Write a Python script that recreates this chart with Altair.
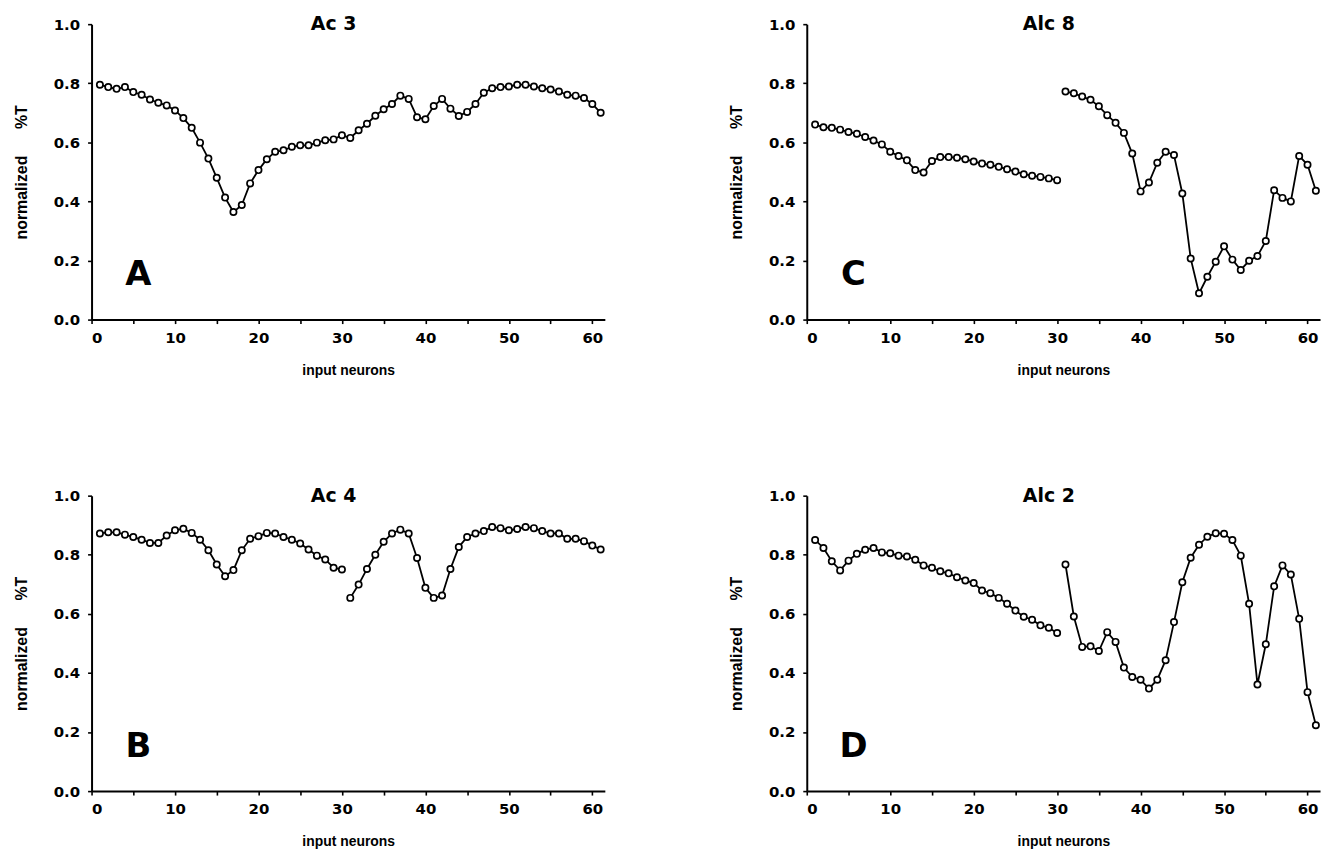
import altair as alt
import pandas as pd

neurons = list(range(1, 62))

ac3 = [0.795, 0.787, 0.781, 0.787, 0.770, 0.761, 0.745, 0.734, 0.725, 0.708,
       0.682, 0.649, 0.599, 0.545, 0.480, 0.413, 0.364, 0.388, 0.461, 0.506,
       0.543, 0.568, 0.573, 0.585, 0.590, 0.590, 0.599, 0.607, 0.610, 0.624,
       0.615, 0.641, 0.663, 0.690, 0.712, 0.730, 0.758, 0.747, 0.685, 0.678,
       0.723, 0.747, 0.714, 0.689, 0.703, 0.730, 0.768, 0.783, 0.787, 0.789,
       0.795, 0.795, 0.789, 0.783, 0.779, 0.772, 0.761, 0.758, 0.750, 0.730,
       0.700]

alc8 = [0.660, 0.651, 0.649, 0.643, 0.635, 0.629, 0.618, 0.606, 0.593, 0.568,
        0.554, 0.539, 0.506, 0.498, 0.537, 0.550, 0.550, 0.548, 0.543, 0.535,
        0.528, 0.524, 0.517, 0.509, 0.501, 0.492, 0.487, 0.483, 0.478, 0.472,
        0.772, 0.766, 0.755, 0.744, 0.722, 0.692, 0.666, 0.632, 0.562, 0.434,
        0.464, 0.531, 0.568, 0.557, 0.427, 0.207, 0.089, 0.145, 0.196, 0.248,
        0.203, 0.168, 0.199, 0.215, 0.266, 0.438, 0.412, 0.400, 0.554, 0.524,
        0.436]

ac4 = [0.872, 0.876, 0.876, 0.868, 0.860, 0.851, 0.840, 0.840, 0.865, 0.883,
       0.888, 0.874, 0.851, 0.815, 0.767, 0.727, 0.748, 0.815, 0.854, 0.863,
       0.874, 0.872, 0.860, 0.851, 0.838, 0.818, 0.797, 0.784, 0.756, 0.750,
       0.654, 0.699, 0.752, 0.800, 0.844, 0.872, 0.885, 0.872, 0.789, 0.688,
       0.654, 0.662, 0.752, 0.826, 0.860, 0.872, 0.880, 0.894, 0.890, 0.883,
       0.887, 0.894, 0.890, 0.880, 0.872, 0.872, 0.854, 0.854, 0.846, 0.831,
       0.818]

alc2 = [0.850, 0.823, 0.778, 0.747, 0.780, 0.803, 0.817, 0.823, 0.808, 0.805,
        0.797, 0.794, 0.783, 0.764, 0.756, 0.744, 0.737, 0.724, 0.713, 0.704,
        0.679, 0.670, 0.654, 0.634, 0.611, 0.590, 0.580, 0.561, 0.553, 0.535,
        0.767, 0.591, 0.488, 0.490, 0.474, 0.538, 0.505, 0.418, 0.386, 0.377,
        0.347, 0.377, 0.443, 0.572, 0.707, 0.790, 0.834, 0.861, 0.873, 0.871,
        0.850, 0.797, 0.634, 0.361, 0.497, 0.693, 0.764, 0.733, 0.583, 0.335,
        0.223]

titles = ["Ac 3", "Alc 8", "Ac 4", "Alc 2"]
letters = ["A", "C", "B", "D"]
breaks = [False, True, True, True]
series = [ac3, alc8, ac4, alc2]

x_ticks = list(range(0, 61, 5))
y_ticks = [round(i * 0.1, 1) for i in range(11)]

FONT = "DejaVu Sans"
LFONT = "Liberation Sans"


def panel(title, values, letter, broken):
    df = pd.DataFrame({
        "neuron": neurons,
        "T": values,
        "seg": [0 if (not broken or n <= 30) else 1 for n in neurons],
    })
    xenc = alt.X(
        "neuron:Q",
        scale=alt.Scale(domain=[0, 61.5], nice=False, zero=False),
        axis=alt.Axis(
            values=x_ticks,
            labelExpr="datum.value % 10 == 0 ? datum.label : ''",
            title="input neurons",
            grid=False,
            tickSize=4, tickWidth=1.6, tickColor="black",
            domainColor="black", domainWidth=2,
            labelFont=FONT, labelFontWeight="bold", labelFontSize=15,
            labelColor="black", labelPadding=7,
            titleFont=LFONT, titleFontWeight="bold", titleFontSize=14,
            titleColor="black", titlePadding=18,
        ),
    )
    yenc = alt.Y(
        "T:Q",
        scale=alt.Scale(domain=[0, 1], nice=False),
        axis=alt.Axis(
            values=y_ticks,
            labelExpr="round(datum.value * 10) % 2 == 0 ? format(datum.value, '.1f') : ''",
            title="normalized\u00a0\u00a0\u00a0\u00a0\u00a0\u00a0%T",
            grid=False,
            tickSize=4, tickWidth=1.6, tickColor="black",
            domainColor="black", domainWidth=2,
            labelFont=FONT, labelFontWeight="bold", labelFontSize=15,
            labelColor="black", labelPadding=8, labelOverlap=False,
            titleFont=LFONT, titleFontWeight="bold", titleFontSize=16,
            titleColor="black", titlePadding=24,
        ),
    )
    base = alt.Chart(df).encode(x=xenc, y=yenc)
    line = base.mark_line(color="black", strokeWidth=1.8).encode(detail="seg:N")
    pts = base.mark_point(shape="circle", filled=True, fill="white",
                          stroke="black", strokeWidth=1.7, size=40, opacity=1)
    lab = alt.Chart(pd.DataFrame({"neuron": [5.6], "T": [0.15], "t": [letter]})).mark_text(
        font=FONT, fontSize=34, fontWeight="bold", color="black",
        align="center", baseline="middle",
    ).encode(x="neuron:Q", y="T:Q", text="t:N")
    ttl = alt.Chart(pd.DataFrame({"neuron": [29.0], "T": [1.0], "t": [title]})).mark_text(
        font=FONT, fontSize=19, fontWeight="bold", color="black",
        align="center", baseline="middle",
    ).encode(x="neuron:Q", y="T:Q", text="t:N")
    return alt.layer(line, pts, lab, ttl).properties(width=516, height=297)


pA = panel(titles[0], series[0], letters[0], breaks[0])
pC = panel(titles[1], series[1], letters[1], breaks[1])
pB = panel(titles[2], series[2], letters[2], breaks[2])
pD = panel(titles[3], series[3], letters[3], breaks[3])

top = alt.hconcat(pA, pC, spacing=121)
bottom = alt.hconcat(pB, pD, spacing=121)
chart = alt.vconcat(top, bottom, spacing=110).configure(
    background="white",
    view=alt.ViewConfig(stroke=None),
)

chart.save("out.html", embed_options={"renderer": "svg", "actions": False})
